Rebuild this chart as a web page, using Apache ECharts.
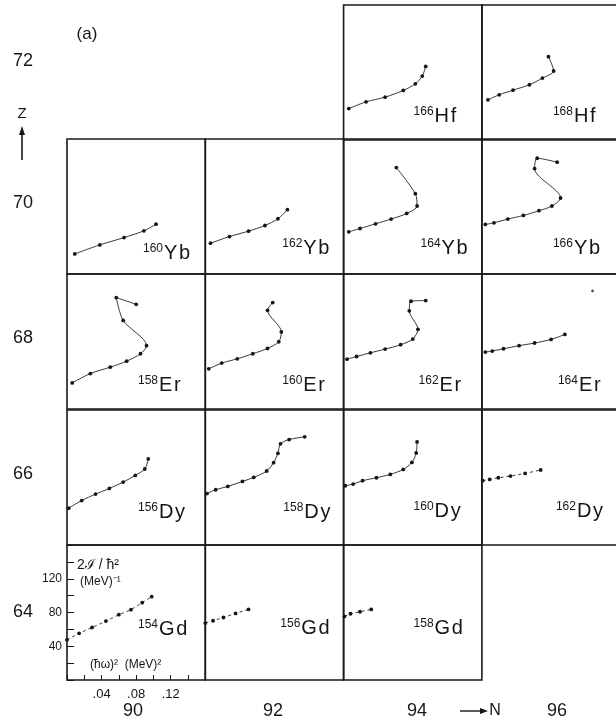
<!DOCTYPE html>
<html><head><meta charset="utf-8">
<script src="https://cdn.jsdelivr.net/npm/echarts@6.0.0/dist/echarts.min.js"></script>
<style>html,body{margin:0;padding:0;background:#fff}#c{width:616px;height:725px}</style>
</head><body><div id="c"></div>
<script>
// ---- tick / axis labels ----
const neutronLabels = ['90', '92', '94', '96'];
const protonLabels = ['72', '70', '68', '66', '64'];
const xTickLabels = ['.04', '.08', '.12'];
const yTickLabels = [40, 80, 120];

// ---- data: [(hbar omega)^2 (MeV^2), 2J/hbar^2 (MeV^-1)] ----
const hf166 = [[0.006,37.2],[0.026,45.2],[0.048,50.8],[0.069,58.7],[0.083,66.6],[0.091,75.8],[0.095,87.2]];
const hf168 = [[0.007,47.6],[0.020,53.6],[0.036,59.1],[0.055,65.5],[0.070,73.4],[0.083,81.8],[0.077,98.8]];
const yb160 = [[0.009,23.8],[0.038,34.5],[0.066,43.2],[0.089,51.2],[0.103,59.1]];
const yb162 = [[0.006,36.5],[0.028,44.4],[0.050,50.8],[0.069,57.5],[0.084,65.5],[0.095,76.2]];
const yb164 = [[0.006,50.0],[0.019,53.9],[0.037,59.5],[0.055,65.1],[0.073,71.8],[0.085,80.6],[0.083,95.2],[0.061,126.1]];
const yb166 = [[0.004,58.7],[0.014,60.7],[0.030,65.1],[0.048,69.4],[0.066,75.0],[0.081,80.6],[0.091,90.1],[0.061,125.0],[0.064,137.2],[0.087,132.5]];
const er158 = [[0.006,30.9],[0.027,42.0],[0.050,49.6],[0.069,56.7],[0.085,65.5],[0.092,75.0],[0.065,105.0],[0.057,132.1],[0.080,124.1]];
const er160 = [[0.004,47.6],[0.019,54.4],[0.037,59.5],[0.055,65.5],[0.072,71.8],[0.085,79.7],[0.088,91.3],[0.072,117.0],[0.078,126.1]];
const er162 = [[0.004,59.1],[0.015,62.2],[0.031,66.6],[0.048,71.0],[0.066,76.2],[0.080,82.9],[0.086,94.4],[0.076,116.3],[0.078,127.7],[0.095,128.5]];
const er164 = [[0.004,67.5],[0.012,68.7],[0.025,71.4],[0.043,75.0],[0.061,78.2],[0.080,82.5],[0.096,88.4]];
const er164Extra = [[0.128,140.0]];
const dy156 = [[0.002,43.7],[0.017,52.7],[0.033,60.3],[0.049,67.0],[0.065,74.6],[0.079,82.5],[0.090,90.1],[0.094,102.0]];
const dy158 = [[0.002,61.0],[0.012,65.5],[0.026,69.4],[0.043,75.4],[0.056,80.1],[0.071,87.7],[0.079,97.6],[0.084,108.7],[0.087,119.9],[0.097,125.0],[0.115,128.2]];
const dy160 = [[0.002,70.2],[0.011,72.2],[0.022,76.2],[0.038,79.7],[0.054,83.7],[0.069,89.6],[0.079,97.9],[0.084,109.1],[0.085,122.2]];
const dy162 = [[0.001,76.2],[0.009,77.7],[0.019,79.7],[0.033,81.7],[0.050,84.8],[0.068,88.9]];
const gd154 = [[0.000,47.6],[0.014,55.3],[0.029,62.2],[0.045,69.8],[0.060,77.4],[0.074,83.3],[0.087,91.6],[0.098,98.8]];
const gd156 = [[0.000,67.5],[0.009,70.2],[0.021,74.1],[0.035,78.9],[0.050,83.7]];
const gd158 = [[0.001,75.3],[0.008,78.5],[0.019,80.9],[0.032,83.7]];

// ---- panel table (nucleus, N, Z, data) ----
const panels = [
  {A:'166', el:'Hf', N:94, Z:72, pts:hf166},
  {A:'168', el:'Hf', N:96, Z:72, pts:hf168},
  {A:'160', el:'Yb', N:90, Z:70, pts:yb160},
  {A:'162', el:'Yb', N:92, Z:70, pts:yb162},
  {A:'164', el:'Yb', N:94, Z:70, pts:yb164},
  {A:'166', el:'Yb', N:96, Z:70, pts:yb166},
  {A:'158', el:'Er', N:90, Z:68, pts:er158},
  {A:'160', el:'Er', N:92, Z:68, pts:er160},
  {A:'162', el:'Er', N:94, Z:68, pts:er162},
  {A:'164', el:'Er', N:96, Z:68, pts:er164, extra:er164Extra},
  {A:'156', el:'Dy', N:90, Z:66, pts:dy156},
  {A:'158', el:'Dy', N:92, Z:66, pts:dy158},
  {A:'160', el:'Dy', N:94, Z:66, pts:dy160},
  {A:'162', el:'Dy', N:96, Z:66, pts:dy162},
  {A:'154', el:'Gd', N:90, Z:64, pts:gd154},
  {A:'156', el:'Gd', N:92, Z:64, pts:gd156},
  {A:'158', el:'Gd', N:94, Z:64, pts:gd158}
];

// ---- layout / style (not data) ----
const FONT = '"Liberation Sans", Arial, sans-serif';
const INK = '#161616';
const COL_W = 138.3, ROW_H = 135;
const colLeft = n => 67 + (n - 90) / 2 * COL_W;
const rowTop = {72:5, 70:139, 68:274, 66:410, 64:545};
const dashed = new Set(['154Gd','156Gd','158Gd','162Dy']);
const labelOffset = {
  '154Gd':[71,-44], '156Gd':[75,-45], '158Gd':[70,-45],
  '166Hf':[70,-17], '168Hf':[71,-17],
  '160Yb':[76,-14], '162Yb':[77,-19], '164Yb':[77,-19], '166Yb':[71,-19],
  '158Er':[71,-17], '160Er':[77,-17], '162Er':[75,-17], '164Er':[76,-17],
  '156Dy':[71,-26], '158Dy':[78,-26], '160Dy':[70,-27], '162Dy':[74,-27]
};

function txt(text, x, y, size, align, valign, extra) {
  return Object.assign({
    type:'text', x:x, y:y, silent:true,
    style:{text:text, fontSize:size, fontFamily:FONT, fill:INK,
      align:align, textAlign:align, verticalAlign:valign, textVerticalAlign:valign}
  }, extra || {});
}

const grids = [], xAxes = [], yAxes = [], series = [], graphics = [];
panels.forEach((p, i) => {
  const key = p.A + p.el;
  const left = colLeft(p.N), top = rowTop[p.Z];
  const axisPanel = key === '154Gd';
  grids.push({left:left, top:top, width:COL_W, height:ROW_H, show:true, containLabel:false,
    outerBoundsMode:'none',
    borderColor:'#1a1a1a', borderWidth:1.6, backgroundColor:'rgba(0,0,0,0)'});
  xAxes.push({gridIndex:i, type:'value', min:0, max:0.16, interval:0.02, show:axisPanel,
    axisLine:{show:false}, splitLine:{show:false},
    axisTick:{show:true, inside:true, length:5, lineStyle:{color:INK, width:1}},
    axisLabel:{margin:8, fontSize:13, color:INK, fontFamily:FONT, showMinLabel:true, showMaxLabel:true,
      formatter:v => { const s = '.' + String(Math.round(v * 100)).padStart(2, '0'); return xTickLabels.includes(s) ? s : ''; }}});
  yAxes.push({gridIndex:i, type:'value', min:0, max:160, interval:20, show:axisPanel,
    axisLine:{show:false}, splitLine:{show:false},
    axisTick:{show:true, inside:true, length:7, lineStyle:{color:INK, width:1}},
    axisLabel:{margin:5, fontSize:12, color:INK, fontFamily:FONT,
      formatter:v => yTickLabels.includes(Math.round(v)) ? String(Math.round(v)) : ''}});
  const isDashed = dashed.has(key);
  series.push({type:'line', xAxisIndex:i, yAxisIndex:i, data:p.pts,
    smooth: isDashed ? false : 0.3, symbol:'circle', symbolSize:3.8, showSymbol:true,
    itemStyle:{color:INK}, lineStyle:{color:'#222', width:0.9, type: isDashed ? [3,3] : 'solid'},
    silent:true, animation:false, clip:false});
  if (p.extra) {
    series.push({type:'scatter', xAxisIndex:i, yAxisIndex:i, data:p.extra,
      symbol:'circle', symbolSize:2.6, itemStyle:{color:INK}, silent:true, animation:false});
  }
  // isotope label: superscript mass number + element symbol
  const off = labelOffset[key];
  const bx = left + off[0], base = top + ROW_H + off[1];
  graphics.push(txt(p.A, bx, base - 11, 12, 'left', 'middle'));
  graphics.push(txt(p.el.split('').join('\u200A'), bx + 21, base - 7, 20, 'left', 'middle'));
});

// Z labels and N labels
const rowLabelY = [61, 203, 338, 474, 612];
protonLabels.forEach((t, k) => graphics.push(txt(t, 23, rowLabelY[k], 18, 'center', 'middle')));
const colLabelX = [133, 273, 417, 557];
neutronLabels.forEach((t, k) => graphics.push(txt(t, colLabelX[k], 711, 18, 'center', 'middle')));

// (a), Z arrow, N arrow
graphics.push(txt('(a)', 87, 34, 17, 'center', 'middle'));
graphics.push(txt('Z', 22, 114, 15, 'center', 'middle'));
graphics.push({type:'line', silent:true, shape:{x1:22, y1:160, x2:22, y2:132}, style:{stroke:INK, lineWidth:1.6}});
graphics.push({type:'polygon', silent:true, shape:{points:[[22,126],[19,135],[25,135]]}, style:{fill:INK}});
graphics.push({type:'line', silent:true, shape:{x1:460, y1:711, x2:481, y2:711}, style:{stroke:INK, lineWidth:1.4}});
graphics.push({type:'polygon', silent:true, shape:{points:[[488,711],[480,708],[480,714]]}, style:{fill:INK}});
graphics.push(txt('N', 495, 711, 16, 'center', 'middle'));

// 154Gd axis titles
graphics.push(txt('2\u2110 / \u0127\u00B2', 77, 565, 14, 'left', 'middle'));
graphics.push(txt('(MeV)\u207B\u00B9', 80, 582, 12, 'left', 'middle'));
graphics.push(txt('(\u0127\u03C9)\u00B2  (MeV)\u00B2', 90, 665, 12, 'left', 'middle'));

const chart = echarts.init(document.getElementById('c'), null, {renderer:'canvas'});
chart.setOption({
  animation:false,
  backgroundColor:'#ffffff',
  grid:grids, xAxis:xAxes, yAxis:yAxes, series:series,
  graphic:{elements:graphics}
});
</script></body></html>
